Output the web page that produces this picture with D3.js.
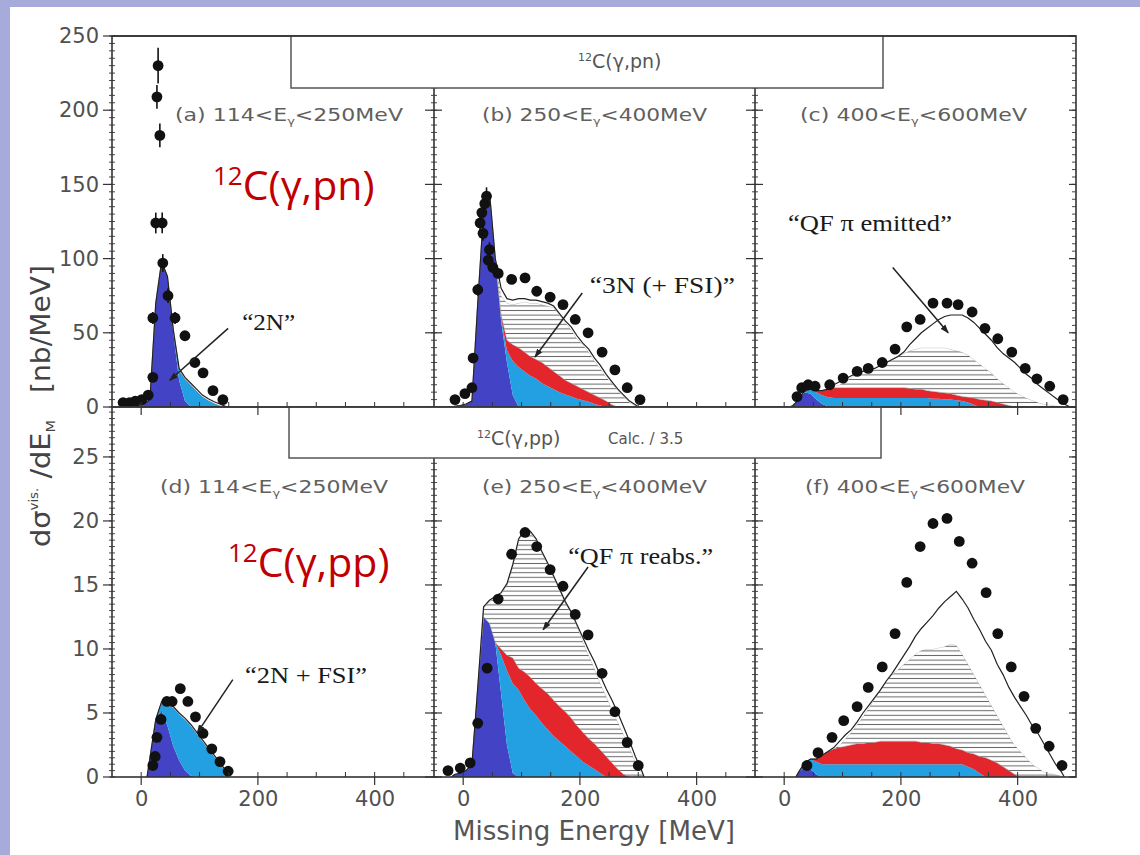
<!DOCTYPE html>
<html><head><meta charset="utf-8">
<script src="https://cdn.jsdelivr.net/npm/d3@7"></script>
<style>body{margin:0;background:#a7abdb}svg{display:block}</style>
</head><body><svg id="c" width="1140" height="855"></svg>
<script>
// ---------------- DATA ----------------
const pnTickLabels=[0,50,100,150,200,250];
const ppTickLabels=[0,5,10,15,20,25];
const xTickLabels=[0,200,400];
const panelLetters=["a","b","c","d","e","f"];
const egLow=["114","250","400","114","250","400"];
const egHigh=["250","400","600","250","400","600"];

// histogram components, 10 MeV bins starting at *Start (MeV)
// order: 2N direct (dark blue), 2N+FSI (light blue), 3N(+FSI) (red), QF pi reabs (hatched), QF pi emitted (white)
const aStart=-10;
const aDark=[1,2,5,70,98,88,50,18,4];
const aLight=[0,0,0,0,0,0,2,7,15,15,11,7,4.5,2.5,1,0.3];
const aRed=[];
const aHatch=[];
const aEmit=[0,0,0,0,0,0,0,1,1,1,1,1,1,1,1,0];

const bStart=-20;
const bDark=[0.5,1,2,4,70,132,145,100,58,30,8];
const bLight=[0,0,0,0,0,0,0,0,2,8,23,27,24,21,19,16,14,12,10,8.5,7,5.5,4.5,3.5,2,1];
const bRed=[0,0,0,0,0,0,0,0,2,7,11,13,13,13,13,14,13,12,11,9.5,9,8.5,7.5,6.5,6,5,4,1.5];
const bHatch=[0,0,0,0,0,0,0,0,13,25,27,30,34,36,38,39,41,43,41,39,36,32,30,27,23,20,16,14.5,11,7,3,1];
const bEmit=[0,0,0,0,0,0,0,0,5,3,3,3,2,2,2,2,2,1,1,1,2,2,1,2,2,2,2,1,1,1,1,0.5];

const cStart=10;
const cDark=[1,5,10,9,5,2,0.5];
const cLight=[0,0,1,3,5,6,6,6,6,6,6,6,6,6,6,6,6,6,6,6,6,6,6,6,5.5,5.5,5,5,4.5,4,3,1.5];
const cRed=[0,0,0,0,1,3,5.5,7,7,7,7,7,7,7,7,7,7,7,7,7,6.5,6,6,5,5,4.5,4.5,4,3.5,3,3.5,4.5,5,4.5,4,3,2,1];
const cHatch=[0,0,0,0,0,0,0,1,2,4,7,9,11,12,13,15,17,19,21,23,25.5,27,28,29,29.5,30,30.5,30,30,30,28.5,26,24,21.5,19,16,14,12,10,8,6,4.5,3,2,1.5,0.8,0.3];
const cEmit=[0,0,0,0,0,0,0,1,2,2,1,1,0,0,0,0,0,0,0,1,4,7,10,13,16,19,21,23,24,25,25,25,24,23,22,21,20,20,20,18,16,14.5,12,10,7.5,5.2,2.7,1];

const dStart=10;
const dDark=[1.5,4.5,5.2,4.0,2.4,1.3,0.5,0.1];
const dLight=[0,0,0.6,1.6,3.0,3.6,4.0,3.9,3.4,2.8,2.2,1.6,1.0,0.4];
const dRed=[];
const dHatch=[];
const dEmit=[0,0,0.1,0.1,0.1,0.1,0.1,0.1,0.1,0.1,0.1,0.1,0.1,0.1];

const eStart=-20;
const eDark=[0.2,0.3,0.5,1.0,7,12.5,12,10.5,6.5,2.5,0.3];
const eLight=[0,0,0,0,0,0,0,0,3.0,5.8,7.0,6.8,6.0,5.3,4.8,4.2,3.7,3.2,2.8,2.4,2.0,1.6,1.2,0.9,0.6,0.3];
const eRed=[0,0,0,0,0,0,0,0,0.5,1.2,2.0,1.7,2.2,2.5,2.5,2.7,2.8,2.8,2.7,2.7,2.6,2.4,2.3,2.1,2.0,1.8,1.6,1.1,0.6,0.2];
const eHatch=[0,0,0,0,0,0.7,1.7,3.5,4.3,5.5,7.2,10,11,11.3,11.2,10.6,10.1,9.6,9.1,8.5,8.2,7.8,7.1,6.5,5.9,5.2,4.7,4.2,3.7,3.1,2.3,1.2,0.4];
const eEmit=[0,0,0,0,0,0.1,0.1,0.1,0.1,0.1,0.1,0.1,0.1,0.1,0.1,0.1,0.1,0.1,0.1,0.1,0.1,0.1,0.3,0.4,0.5,0.6,0.6,0.7,0.7,0.6,0.5,0.4,0.2];

const fStart=20;
const fDark=[0.4,0.8,0.6,0.2];
const fLight=[0,0.3,0.8,1,1,1,1,1,1,1,1,1,1,1,1,1,1,1,1,1,1,1,1,1,1,1,1,1,1,0.8,0.6,0.3];
const fRed=[0,0,0,0.2,0.7,1.0,1.2,1.3,1.4,1.5,1.6,1.6,1.7,1.7,1.8,1.8,1.8,1.8,1.8,1.8,1.8,1.7,1.7,1.6,1.6,1.5,1.4,1.2,1.1,1.1,1.2,1.3,1.5,1.3,1.1,0.8,0.5,0.2];
const fHatch=[0,0,0,0,0,0,0,0.2,0.6,1.0,1.5,2.1,2.7,3.4,4.0,4.7,5.2,5.6,6.0,6.4,6.8,7.2,7.3,7.4,7.5,7.7,8.0,8.1,7.5,6.9,6.2,5.6,4.9,4.3,3.7,3.2,2.7,2.3,2.0,1.5,1.0,0.7,0.4,0.3,0.2,0.1];
const fEmit=[0,0,0,0,0,0,0.1,0.3,0.3,0.2,0.2,0.3,0.2,0.1,0,0,0.1,0.4,0.7,1.0,1.4,1.7,2.1,2.6,3.1,3.5,3.7,4.2,4.3,4.4,4.3,4.3,4.2,4.3,4.0,4.0,3.8,3.7,3.5,3.3,3.0,2.7,2.2,1.5,0.8,0.3];

// measured points [E (MeV), value, error]
const aData=[[-31,3,1],[-20,3,1],[-10,4,1],[1,5,1],[12,8,1.5],[20,20,2],[20,60,4],[25,124,7],[27,209,8],[29,230,12],[32,183,8],[36,124,7],[37,97,6],[46,75,5],[58,60,4],[75,48,3],[92,30,2],[106,23,2],[123,11,1.5],[140,5,1]];
const bData=[[-14,5,1],[3,9,1],[15,13,1.5],[17,33,2],[25,79,4],[29,124,5],[32,131,5],[34,117,5],[37,137,5],[40,142,6],[43,99,5],[45,106,5],[51,94,4],[60,90,3],[83,86,3],[106,87,3],[126,78,3],[149,74,3],[171,69,3],[192,59,2],[214,50,2],[238,37,2],[260,25,2],[281,13,1],[303,5,1]];
const cData=[[22,7,1],[30,13,1],[41,15,1],[53,14,1],[78,15,1],[101,19.5,1],[125,24,1],[144,26,1],[168,30,1],[190,39,1],[210,54,1],[233,59,1],[255,70,1],[279,70,1],[298,69,1],[322,64,1],[344,53,1],[366,46,1],[390,37,1],[413,26,1],[433,19,1],[455,14,1],[478,5,1]];
const dData=[[20,0.9,0.1],[24,1.6,0.1],[27,3.1,0.2],[34,4.5,0.2],[44,5.9,0.2],[53,5.9,0.2],[67,6.9,0.2],[80,5.9,0.2],[93,4.7,0.2],[106,3.4,0.2],[121,2.2,0.1],[135,1.2,0.1],[149,0.45,0.1]];
const eData=[[-26,0.5,0.1],[-5,0.7,0.1],[12,1.1,0.1],[25,4.2,0.2],[41,8.5,0.2],[60,13.9,0.3],[83,17.4,0.3],[106,19.1,0.3],[126,18.0,0.3],[149,16.2,0.3],[171,14.9,0.3],[192,12.7,0.3],[214,11.1,0.2],[238,8.1,0.2],[260,5.1,0.2],[281,2.7,0.1],[300,0.9,0.1]];
const fData=[[39,0.9,0.1],[58,1.9,0.1],[82,3.1,0.1],[102,4.4,0.1],[125,5.5,0.1],[144,7.0,0.1],[168,8.6,0.1],[190,11.2,0.1],[210,15.2,0.1],[233,18.0,0.1],[255,19.8,0.1],[279,20.2,0.1],[300,18.4,0.1],[322,16.7,0.1],[346,14.4,0.1],[366,11.2,0.1],[389,8.6,0.1],[411,6.3,0.1],[431,3.8,0.1],[454,2.4,0.1],[476,0.9,0.1]];

// annotations: panel index, text, text anchor (E,val), arrow tail (E,val), arrow tip (E,val), text width
const notes=[
 [0,"\u201C2N\u201D",[173,52],[149,53],[49,18],53],
 [1,"\u201C3N (+ FSI)\u201D",[217,76.8],[204,76.8],[123,33.7],145],
 [2,"\u201CQF \u03C0 emitted\u201D",[6.5,118.6],[186,94],[281,50],164],
 [3,"\u201C2N + FSI\u201D",[178,7.37],[157,7.6],[96,3.45],122],
 [4,"\u201CQF \u03C0 reabs.\u201D",[180,16.6],[214,16.4],[137,11.5],145]
];

// ---------------- LAYOUT ----------------
const svg=d3.select("#c");
const W=1140,H=855;
const colX=[112,434,755],PW=321;
const rowY=[[36,407],[407,777]];
const yDomains=[[0,250],[0,28.9]];
const fills=["#4343c6","#22a0e2","#e3262b","url(#hatch)","#ffffff"];
const FONT="DejaVu Sans";

svg.append("rect").attr("width",W).attr("height",H).attr("fill","#a7abdb");
svg.append("rect").attr("x",10).attr("y",7).attr("width",W-10).attr("height",H-7).attr("fill","#fff");

const defs=svg.append("defs");
const pat=defs.append("pattern").attr("id","hatch").attr("patternUnits","userSpaceOnUse").attr("width",8).attr("height",4.6);
pat.append("rect").attr("width",8).attr("height",4.6).attr("fill","#fff");
pat.append("line").attr("x1",0).attr("x2",8).attr("y1",2.3).attr("y2",2.3).attr("stroke","#6a6a6a").attr("stroke-width",1);
defs.append("marker").attr("id","arr").attr("viewBox","0 0 10 10").attr("refX",9).attr("refY",5)
  .attr("markerWidth",6).attr("markerHeight",6).attr("orient","auto")
  .append("path").attr("d","M0,1.5L10,5L0,8.5z").attr("fill","#222");

const panels=[
 {start:aStart,layers:[aDark,aLight,aRed,aHatch,aEmit],data:aData},
 {start:bStart,layers:[bDark,bLight,bRed,bHatch,bEmit],data:bData},
 {start:cStart,layers:[cDark,cLight,cRed,cHatch,cEmit],data:cData},
 {start:dStart,layers:[dDark,dLight,dRed,dHatch,dEmit],data:dData},
 {start:eStart,layers:[eDark,eLight,eRed,eHatch,eEmit],data:eData},
 {start:fStart,layers:[fDark,fLight,fRed,fHatch,fEmit],data:fData}
];

panels.forEach((p,pi)=>{
  const row=pi<3?0:1, col=pi%3;
  p.row=row; p.col=col;
  p.x=d3.scaleLinear().domain([-50,500]).range([colX[col],colX[col]+PW]);
  p.y=d3.scaleLinear().domain(yDomains[row]).range([rowY[row][1],rowY[row][0]]);
});

// content
panels.forEach((p,pi)=>{
  const {x,y}=p;
  const cid="clip"+pi;
  defs.append("clipPath").attr("id",cid).append("rect")
    .attr("x",colX[p.col]).attr("y",rowY[p.row][0]).attr("width",PW).attr("height",rowY[p.row][1]-rowY[p.row][0]);
  const g=svg.append("g").attr("clip-path",`url(#${cid})`);
  const n=d3.max(p.layers,l=>l.length);
  let base=new Array(n).fill(0);
  const stacks=p.layers.map(l=>{
    const hi=base.map((b,i)=>b+(l[i]||0));
    const s={lo:base.slice(),hi};
    base=hi; return s;
  });
  const area=d3.area().curve(d3.curveLinear).x(d=>x(d.e)).y0(d=>y(d.lo)).y1(d=>y(d.hi));
  stacks.forEach((s,k)=>{
    const pts=[{e:p.start,lo:0,hi:0}].concat(d3.range(n).map(i=>({e:p.start+10*i+5,lo:s.lo[i],hi:s.hi[i]})));
    pts.push({e:p.start+10*n,lo:0,hi:0});
    g.append("path").attr("d",area(pts)).attr("fill",fills[k])
      .attr("stroke",k===3?"#888":"none").attr("stroke-width",0.5);
  });
  const tot=[{e:p.start,v:0}].concat(d3.range(n).map(i=>({e:p.start+10*i+5,v:base[i]})));
  tot.push({e:p.start+10*n,v:0});
  g.append("path").attr("d",d3.line().curve(d3.curveLinear).x(d=>x(d.e)).y(d=>y(d.v))(tot))
    .attr("fill","none").attr("stroke","#222").attr("stroke-width",1.2);
  // data
  g.selectAll(".eb").data(p.data).join("line")
    .attr("x1",d=>x(d[0])).attr("x2",d=>x(d[0]))
    .attr("y1",d=>y(d[1]-d[2])).attr("y2",d=>y(d[1]+d[2]))
    .attr("stroke","#111").attr("stroke-width",1.6);
  g.selectAll(".pt").data(p.data).join("circle")
    .attr("cx",d=>x(d[0])).attr("cy",d=>y(d[1])).attr("r",5.4).attr("fill","#111");
});

// frame and ticks
const frame=svg.append("g").attr("stroke","#333").attr("stroke-width",1.6).attr("fill","none");
const L=colX[0],R=colX[2]+PW;
frame.append("rect").attr("x",L).attr("y",rowY[0][0]).attr("width",R-L).attr("height",rowY[1][1]-rowY[0][0]);
frame.append("line").attr("x1",L).attr("x2",R).attr("y1",rowY[0][1]).attr("y2",rowY[0][1]);
[1,2].forEach(c=>{
  frame.append("line").attr("x1",colX[c]).attr("x2",colX[c]).attr("y1",rowY[0][0]).attr("y2",rowY[0][1]);
  frame.append("line").attr("x1",colX[c]).attr("x2",colX[c]).attr("y1",rowY[1][0]).attr("y2",rowY[1][1]);
});
const tk=svg.append("g").attr("stroke","#333").attr("stroke-width",1.2);
panels.forEach((p,pi)=>{
  const {x,y,row,col}=p;
  const x0=colX[col];
  const minors=row===0?d3.range(0,251,5):d3.range(0,28.9,0.5);
  const majors=row===0?pnTickLabels:ppTickLabels;
  minors.forEach(v=>{
    tk.append("line").attr("x1",x0-3).attr("x2",x0+3).attr("y1",y(v)).attr("y2",y(v)).attr("stroke-width",0.9);
    if(col===2) tk.append("line").attr("x1",R-4).attr("x2",R).attr("y1",y(v)).attr("y2",y(v)).attr("stroke-width",0.9);
  });
  majors.forEach(v=>{
    tk.append("line").attr("x1",x0-9).attr("x2",col===0?x0:x0+8).attr("y1",y(v)).attr("y2",y(v));
    if(col===2) tk.append("line").attr("x1",R-7).attr("x2",R).attr("y1",y(v)).attr("y2",y(v));
  });
  const yb=rowY[row][1];
  d3.range(0,451,50).forEach(e=>{
    tk.append("line").attr("x1",x(e)).attr("x2",x(e)).attr("y1",yb-5).attr("y2",yb).attr("stroke-width",1);
  });
  xTickLabels.forEach(e=>{
    tk.append("line").attr("x1",x(e)).attr("x2",x(e)).attr("y1",yb).attr("y2",yb+8);
  });
  if(col===0){
    const ax=svg.append("g").attr("transform",`translate(${x0},0)`)
      .call(d3.axisLeft(y).tickValues(majors).tickSize(9).tickPadding(4).tickFormat(d3.format("d")));
    ax.select(".domain").remove(); ax.selectAll("line").remove();
    ax.selectAll("text").attr("font-family",FONT).attr("font-size",21).attr("fill","#505050");
  }
  if(row===1){
    const ax=svg.append("g").attr("transform",`translate(0,${yb})`)
      .call(d3.axisBottom(x).tickValues(xTickLabels).tickSize(8).tickPadding(6).tickFormat(d3.format("d")));
    ax.select(".domain").remove(); ax.selectAll("line").remove();
    ax.selectAll("text").attr("font-family",FONT).attr("font-size",21).attr("fill","#505050");
  }
});

// header boxes
svg.append("rect").attr("x",291).attr("y",36).attr("width",592).attr("height",52)
  .attr("fill","#fff").attr("stroke","#555").attr("stroke-width",1.5);
svg.append("rect").attr("x",289).attr("y",407).attr("width",592).attr("height",51)
  .attr("fill","#fff").attr("stroke","#555").attr("stroke-width",1.5);
svg.append("line").attr("x1",L).attr("x2",R).attr("y1",36).attr("y2",36).attr("stroke","#333").attr("stroke-width",1.6);
svg.append("line").attr("x1",L).attr("x2",R).attr("y1",407).attr("y2",407).attr("stroke","#333").attr("stroke-width",1.6);

function reaction(g,x0,yb,fs,supfs,main){
  const t=g.append("text").attr("x",x0).attr("y",yb);
  t.append("tspan").attr("font-size",supfs).attr("dy",-fs*0.38).text("12");
  t.append("tspan").attr("font-size",fs).attr("dy",fs*0.38).text(main);
  return t;
}
const hb=svg.append("g").attr("font-family",FONT).attr("fill","#555");
reaction(hb,578,68,19,11,"C(\u03B3,pn)");
reaction(hb,477,445,19,11,"C(\u03B3,pp)");
hb.append("text").attr("x",608).attr("y",444).attr("font-size",15).text("Calc. / 3.5");

// panel labels
const labX=[175,482,800,160,482,805], labW=[228,225,227,228,225,220];
panels.forEach((p,pi)=>{
  const yb=p.row===0?121:493;
  const t=svg.append("text").attr("x",labX[pi]).attr("y",yb).attr("font-family",FONT)
    .attr("font-size",17).attr("fill","#606060").attr("textLength",labW[pi]).attr("lengthAdjust","spacingAndGlyphs");
  t.append("tspan").text(`(${panelLetters[pi]}) ${egLow[pi]}<E`);
  t.append("tspan").attr("font-size",10).attr("dy",4).text("\u03B3");
  t.append("tspan").attr("dy",-4).text(`<${egHigh[pi]}MeV`);
});

// annotations
notes.forEach(([pi,txt,tp,tail,tip,w])=>{
  const p=panels[pi];
  svg.append("line").attr("x1",p.x(tail[0])).attr("y1",p.y(tail[1])).attr("x2",p.x(tip[0])).attr("y2",p.y(tip[1]))
    .attr("stroke","#222").attr("stroke-width",1.5).attr("marker-end","url(#arr)");
  svg.append("text").attr("x",p.x(tp[0])).attr("y",p.y(tp[1])).attr("font-family","Liberation Serif")
    .attr("font-size",23).attr("fill","#1a1a1a").attr("textLength",w).attr("lengthAdjust","spacingAndGlyphs").text(txt);
});

// red reaction labels
const red=svg.append("g").attr("font-family","Open Sans").attr("fill","#c00000");
const r1=red.append("text").attr("x",213).attr("y",200);
r1.append("tspan").attr("font-size",26).attr("dy",-15).text("12");
r1.append("tspan").attr("font-size",41).attr("dy",15).text("C(\u03B3,pn)");
const r2=red.append("text").attr("x",228).attr("y",577);
r2.append("tspan").attr("font-size",26).attr("dy",-15).text("12");
r2.append("tspan").attr("font-size",41).attr("dy",15).text("C(\u03B3,pp)");

// axis titles
svg.append("text").attr("x",594).attr("y",840).attr("text-anchor","middle").attr("font-family",FONT)
  .attr("font-size",26).attr("fill","#555").attr("textLength",282).attr("lengthAdjust","spacingAndGlyphs")
  .text("Missing Energy [MeV]");
const yt=svg.append("text").attr("transform","translate(50,547) rotate(-90)").attr("font-family",FONT)
  .attr("font-size",26).attr("fill","#444").attr("textLength",127).attr("lengthAdjust","spacingAndGlyphs");
yt.append("tspan").text("d\u03C3");
yt.append("tspan").attr("font-size",12).attr("dy",-12).text("vis.");
yt.append("tspan").attr("dy",12).text(" /dE");
yt.append("tspan").attr("font-size",13).attr("dy",5).text("M");
svg.append("text").attr("transform","translate(50,393) rotate(-90)").attr("font-family",FONT)
  .attr("font-size",26).attr("fill","#444").attr("textLength",128).attr("lengthAdjust","spacingAndGlyphs")
  .text("[nb/MeV]");
</script></body></html>
